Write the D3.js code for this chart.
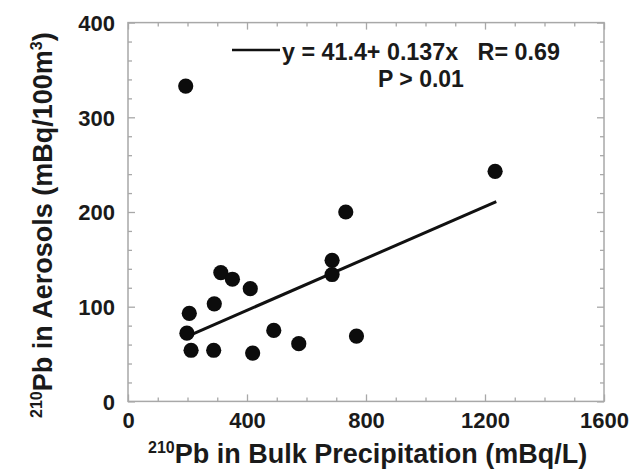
<!DOCTYPE html>
<html>
<head>
<meta charset="utf-8">
<script src="https://cdn.jsdelivr.net/npm/d3@7"></script>
<style>
  html, body { margin: 0; padding: 0; background: #fff; }
  svg { display: block; font-family: "Liberation Sans", Arial, sans-serif; font-weight: bold; }
</style>
</head>
<body>
<svg id="chart" width="632" height="472"></svg>
<script>
// 210Pb: bulk precipitation (mBq/L) vs aerosols (mBq/100m3)
const precip  = [194, 732, 686, 686, 312, 351, 411, 290, 206, 198, 212, 288, 419, 490, 574, 768, 1234];
const aerosol = [333, 200, 149, 134, 136, 129, 119, 103,  93,  72,  54,  54,  51,  75,  61,  69,  243];

// linear fit y = a + b x, drawn over the fitted range
const fitA = 41.4, fitB = 0.137;
const fitRange = [215, 1238];

const xTicks = [0, 400, 800, 1200, 1600];
const yTicks = [0, 100, 200, 300, 400];
const xMinor = d3.range(0, 1601, 100);
const yMinor = d3.range(0, 401, 20);

const svg = d3.select("#chart");
const plotL = 128, plotR = 604, plotT = 22.6, plotB = 401.4;

const x = d3.scaleLinear().domain([0, 1600]).range([plotL, plotR]);
const y = d3.scaleLinear().domain([0, 400]).range([plotB, plotT]);

const axisColor = "#a8a8a8";
const textColor = "#1a1a1a";
const fontFam = "Liberation Sans, Arial, sans-serif";
const fmt = d3.format("d");

// frame
svg.append("rect")
  .attr("x", plotL).attr("y", plotT)
  .attr("width", plotR - plotL).attr("height", plotB - plotT)
  .attr("fill", "none").attr("stroke", axisColor).attr("stroke-width", 1.5);

// inward ticks on all four sides
function ticks(g, axisFn, scale, minor) {
  g.call(axisFn(scale).tickValues(minor).tickFormat("").tickSizeInner(0).tickSizeOuter(0));
  g.select(".domain").remove();
  g.selectAll(".tick line").attr("stroke", axisColor).attr("stroke-width", 1.3);
  return g;
}
const lenX = v => (v % 400 === 0 ? 7 : 4);
const lenY = v => (v % 100 === 0 ? 7 : 4);

ticks(svg.append("g").attr("transform", `translate(0,${plotB})`), d3.axisBottom, x, xMinor)
  .selectAll(".tick line").attr("y2", d => -lenX(d));
ticks(svg.append("g").attr("transform", `translate(0,${plotT})`), d3.axisTop, x, xMinor)
  .selectAll(".tick line").attr("y2", d => lenX(d));
ticks(svg.append("g").attr("transform", `translate(${plotL},0)`), d3.axisLeft, y, yMinor)
  .selectAll(".tick line").attr("x2", d => lenY(d));
ticks(svg.append("g").attr("transform", `translate(${plotR},0)`), d3.axisRight, y, yMinor)
  .selectAll(".tick line").attr("x2", d => -lenY(d));

// tick labels
const xLab = svg.append("g").attr("transform", `translate(0,${plotB})`)
  .call(d3.axisBottom(x).tickValues(xTicks).tickFormat(fmt).tickSize(0).tickPadding(0));
xLab.select(".domain").remove();
xLab.selectAll("text")
  .attr("y", 27).attr("dy", 0)
  .attr("font-size", 22).attr("font-weight", "bold")
  .attr("font-family", fontFam)
  .attr("fill", textColor);

const yLab = svg.append("g").attr("transform", `translate(${plotL},0)`)
  .call(d3.axisLeft(y).tickValues(yTicks).tickFormat(fmt).tickSize(0).tickPadding(0));
yLab.select(".domain").remove();
yLab.selectAll("text")
  .attr("x", -13).attr("dy", "0.36em")
  .attr("font-size", 22).attr("font-weight", "bold")
  .attr("font-family", fontFam)
  .attr("fill", textColor);

// regression line
svg.append("line")
  .attr("x1", x(fitRange[0])).attr("y1", y(fitA + fitB * fitRange[0]))
  .attr("x2", x(fitRange[1])).attr("y2", y(fitA + fitB * fitRange[1]))
  .attr("stroke", "#111").attr("stroke-width", 3);

// data points
svg.append("g").selectAll("circle")
  .data(precip.map((p, i) => [p, aerosol[i]]))
  .join("circle")
  .attr("cx", d => x(d[0])).attr("cy", d => y(d[1]))
  .attr("r", 7.6).attr("fill", "#0c0c0c");

// fit annotation
svg.append("line")
  .attr("x1", 232).attr("x2", 280).attr("y1", 50).attr("y2", 50)
  .attr("stroke", "#111").attr("stroke-width", 2.5);
svg.append("text")
  .attr("x", 282).attr("y", 60)
  .attr("font-size", 23.3).attr("fill", textColor)
  .style("white-space", "pre")
  .text(`y = ${fitA}+ ${fitB}x   R= 0.69`);
svg.append("text")
  .attr("x", 378).attr("y", 87)
  .attr("font-size", 23).attr("fill", textColor)
  .text("P > 0.01");

// axis titles
const xt = svg.append("text")
  .attr("x", 148).attr("y", 463)
  .attr("font-size", 27).attr("fill", textColor);
xt.append("tspan").attr("font-size", 16).attr("dy", -10).text("210");
xt.append("tspan").attr("dy", 10).text("Pb in Bulk Precipitation (mBq/L)");

const yt = svg.append("text")
  .attr("transform", "translate(52,418) rotate(-90)")
  .attr("font-size", 27).attr("fill", textColor);
yt.append("tspan").attr("font-size", 16).attr("dy", -10).text("210");
yt.append("tspan").attr("dy", 10).text("Pb in Aerosols (mBq/100m");
yt.append("tspan").attr("font-size", 16).attr("dy", -10).text("3");
yt.append("tspan").attr("dy", 10).text(")");
</script>
</body>
</html>
